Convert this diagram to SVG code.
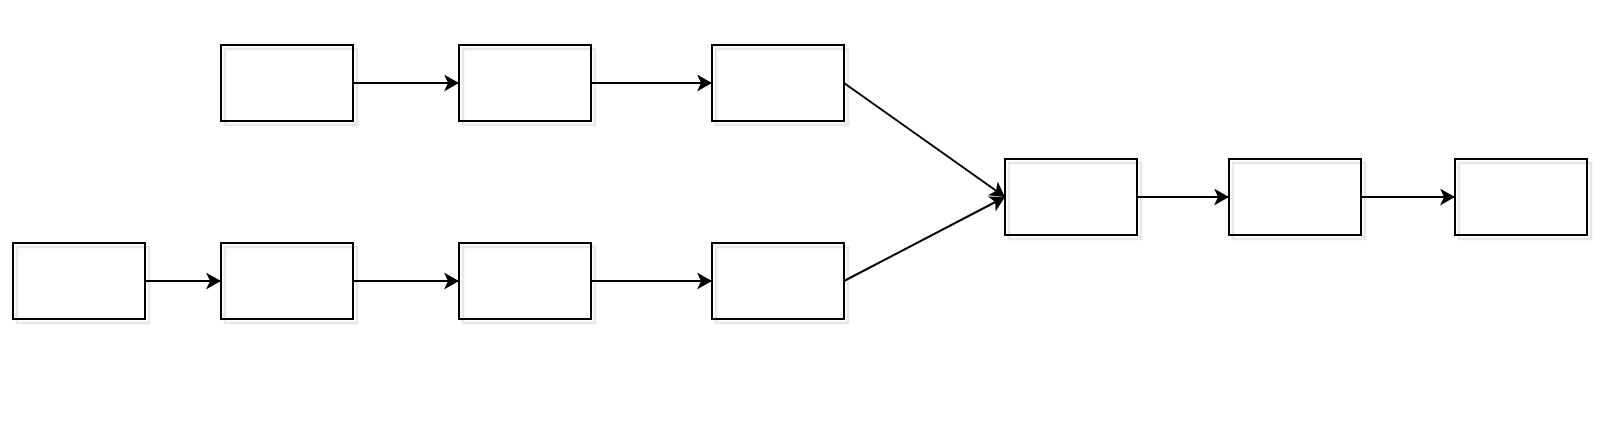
<svg xmlns="http://www.w3.org/2000/svg" width="1622" height="434" viewBox="0 0 1622 434">
<style>
.box{fill:none;stroke:#000000;stroke-width:2}
.sh{fill:none;stroke:#e8e8e8;stroke-width:2.5}
.edge{fill:none;stroke:#000000;stroke-width:2;marker-end:url(#arr)}
</style>
<defs>
<marker id="arr" markerUnits="userSpaceOnUse" markerWidth="16" markerHeight="18" refX="15" refY="8.5" orient="auto" viewBox="0 0 16 18">
<path d="M0,0 L15,8.5 L0,17 L4,8.5 Z" fill="#000000"/>
</marker>
</defs>
<rect width="1622" height="434" fill="#ffffff"/>
<g id="n1"><rect class="sh" x="225" y="49" width="132" height="76"/><rect class="box" x="221" y="45" width="132" height="76"/></g>
<g id="n2"><rect class="sh" x="463" y="49" width="132" height="76"/><rect class="box" x="459" y="45" width="132" height="76"/></g>
<g id="n3"><rect class="sh" x="716" y="49" width="132" height="76"/><rect class="box" x="712" y="45" width="132" height="76"/></g>
<g id="n4"><rect class="sh" x="17" y="247" width="132" height="76"/><rect class="box" x="13" y="243" width="132" height="76"/></g>
<g id="n5"><rect class="sh" x="225" y="247" width="132" height="76"/><rect class="box" x="221" y="243" width="132" height="76"/></g>
<g id="n6"><rect class="sh" x="463" y="247" width="132" height="76"/><rect class="box" x="459" y="243" width="132" height="76"/></g>
<g id="n7"><rect class="sh" x="716" y="247" width="132" height="76"/><rect class="box" x="712" y="243" width="132" height="76"/></g>
<g id="n8"><rect class="sh" x="1009" y="163" width="132" height="76"/><rect class="box" x="1005" y="159" width="132" height="76"/></g>
<g id="n9"><rect class="sh" x="1233" y="163" width="132" height="76"/><rect class="box" x="1229" y="159" width="132" height="76"/></g>
<g id="n10"><rect class="sh" x="1459" y="163" width="132" height="76"/><rect class="box" x="1455" y="159" width="132" height="76"/></g>
<g id="connectors">
<line class="edge" x1="353" y1="83" x2="459" y2="83"/>
<line class="edge" x1="591" y1="83" x2="712" y2="83"/>
<line class="edge" x1="145" y1="281" x2="221" y2="281"/>
<line class="edge" x1="353" y1="281" x2="459" y2="281"/>
<line class="edge" x1="591" y1="281" x2="712" y2="281"/>
<line class="edge" x1="844" y1="83" x2="1005" y2="197"/>
<line class="edge" x1="844" y1="281" x2="1005" y2="197"/>
<line class="edge" x1="1137" y1="197" x2="1229" y2="197"/>
<line class="edge" x1="1361" y1="197" x2="1455" y2="197"/>
</g>
</svg>
